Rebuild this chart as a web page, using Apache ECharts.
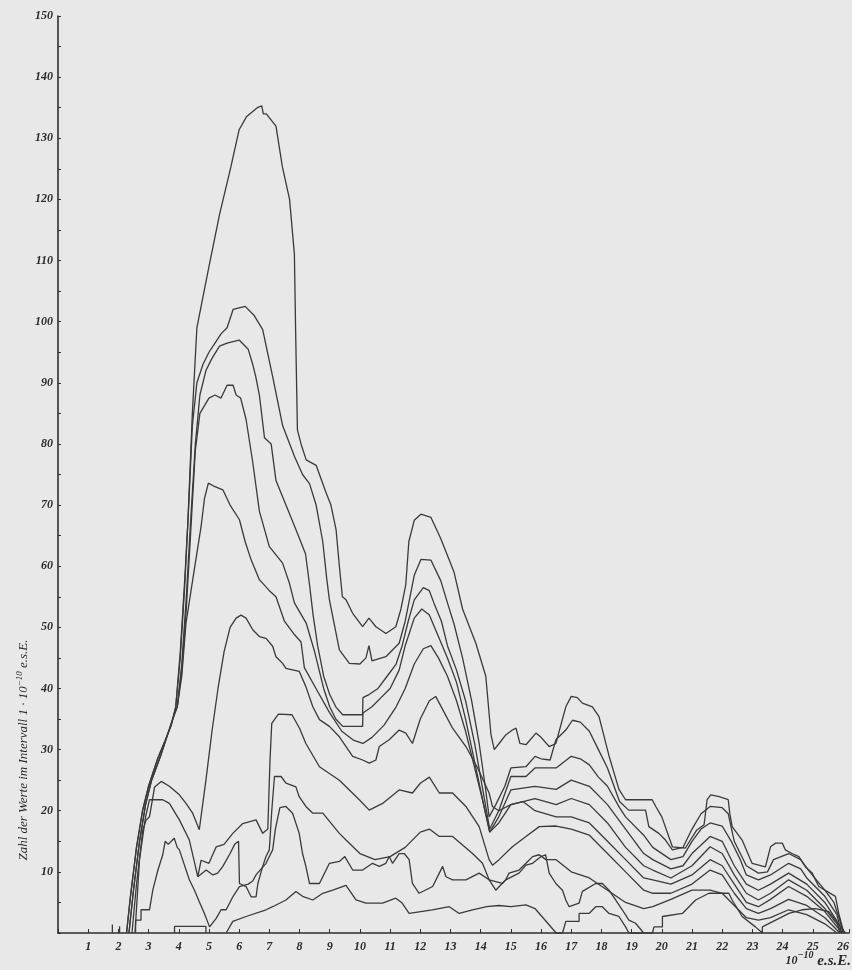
<!DOCTYPE html>
<html>
<head>
<meta charset="utf-8">
<script src="https://cdn.jsdelivr.net/npm/echarts@6/dist/echarts.min.js"></script>
<style>
html,body{margin:0;padding:0;background:#e8e8e8;}
#c{width:852px;height:970px;}
</style>
</head>
<body>
<div id="c"></div>
<script>
// Tick labels
const xTicks = [1,2,3,4,5,6,7,8,9,10,11,12,13,14,15,16,17,18,19,20,21,22,23,24,25,26];
const yTicks = [10,20,30,40,50,60,70,80,90,100,110,120,130,140,150];

// Series values: [charge in 1e-10 e.s.E., count per interval]
const curve1 = [[2.27,0],[2.4,6],[2.6,14],[2.8,20],[3.0,24],[3.3,28.5],[3.55,31.5],[3.75,34],[3.9,37],[4.05,46],[4.2,58],[4.3,67],[4.45,85],[4.6,99],[4.8,104],[5.0,109],[5.35,117.5],[5.73,125.4],[6.0,131.4],[6.24,133.5],[6.6,135],[6.75,135.3],[6.8,134],[6.9,134],[7.22,132],[7.43,125.4],[7.67,120],[7.83,111],[7.87,98.7],[7.93,82.3],[8.05,80],[8.22,77.4],[8.55,76.5],[8.88,72],[9.04,70],[9.21,66],[9.32,60],[9.42,55],[9.54,54.5],[9.76,52.3],[10.09,50.1],[10.3,51.5],[10.53,50.1],[10.86,49],[11.19,50.1],[11.36,53],[11.52,57],[11.62,64],[11.8,67.5],[12.02,68.5],[12.35,68],[12.68,64.5],[13.12,59],[13.4,53],[13.84,47.4],[14.17,42],[14.34,32.5],[14.45,30],[14.61,31],[14.83,32.4],[15.05,33.2],[15.17,33.5],[15.3,31],[15.5,30.8],[15.83,32.7],[16.0,32],[16.27,30.5],[16.49,31],[16.82,37],[17.0,38.7],[17.2,38.5],[17.37,37.6],[17.7,37],[17.92,35.4],[18.25,29],[18.58,23.5],[18.8,21.8],[19.68,21.8],[19.8,20.7],[20.0,19],[20.35,14.1],[20.78,13.9],[21.15,16.8],[21.4,17.7],[21.5,21.8],[21.62,22.6],[21.9,22.3],[22.2,21.8],[22.25,19.6],[22.33,17.4],[22.66,15.2],[22.99,11.4],[23.43,10.8],[23.6,14.1],[23.77,14.7],[23.99,14.7],[24.09,13.6],[24.31,13],[24.54,12.5],[24.76,10.8],[24.98,9.8],[25.2,7.6],[25.75,6],[25.86,3.2],[26.03,0]];
const curve2 = [[2.27,0],[2.4,6],[2.6,14],[2.8,20],[3.0,24],[3.3,28.5],[3.55,31.5],[3.75,34],[3.9,37],[4.05,45],[4.2,57],[4.35,72],[4.45,83],[4.6,90],[4.8,93],[5.0,95],[5.2,96.5],[5.4,98],[5.6,99],[5.8,102],[6.2,102.5],[6.5,101],[6.78,98.7],[7.11,91],[7.44,83],[7.83,78],[8.1,75],[8.33,73.5],[8.55,70],[8.77,64],[8.9,58],[8.99,54.5],[9.32,46.3],[9.65,44.1],[10.0,44],[10.2,45],[10.3,47],[10.4,44.5],[10.53,44.7],[10.86,45.2],[11.3,47.4],[11.5,51],[11.8,58.5],[12.02,61.1],[12.35,61],[12.68,57.6],[12.9,54],[13.12,50.5],[13.4,45],[13.7,38],[13.95,31],[14.15,24],[14.28,19],[14.5,21],[14.8,24],[15.0,27],[15.5,27.2],[15.8,28.9],[16.0,28.5],[16.3,28.3],[16.49,31.6],[16.82,33.2],[17.04,34.8],[17.3,34.5],[17.6,33],[17.9,30],[18.2,27],[18.6,21.5],[18.9,20.1],[19.46,20.1],[19.57,17.4],[19.9,16.3],[20.12,15.2],[20.35,13.6],[20.7,14],[21.0,17],[21.3,19.5],[21.6,20.7],[22.0,20.5],[22.2,19.5],[22.4,15],[22.8,11],[23.2,9.8],[23.5,10],[23.7,12],[24.2,13],[24.6,12],[24.9,10],[25.4,7],[25.7,5],[25.9,2],[26.0,0]];
const curve3 = [[2.35,0],[2.5,7],[2.7,15],[2.9,21],[3.1,25],[3.4,29],[3.6,32],[3.8,35],[3.95,37],[4.1,44],[4.25,55],[4.4,68],[4.55,80],[4.7,88],[4.9,92],[5.1,94],[5.35,96],[5.6,96.5],[6.0,97],[6.3,95.5],[6.45,93],[6.55,91],[6.67,88],[6.84,81],[7.06,80],[7.22,74],[7.55,70],[7.88,66],[8.2,62],[8.33,57],[8.45,52],[8.6,47],[8.8,42],[9.0,39],[9.2,37],[9.43,35.7],[10.09,35.7],[10.1,38.5],[10.3,39],[10.6,40],[10.9,42],[11.2,44],[11.4,47],[11.6,51],[11.8,54.5],[12.1,56.5],[12.3,56],[12.45,54],[12.7,51],[12.9,47],[13.2,43],[13.5,38],[13.8,31],[14.05,24],[14.3,17],[14.6,20],[15.0,25.6],[15.5,25.6],[15.8,27],[16.5,27],[17.0,28.9],[17.3,28.5],[17.6,27.5],[17.9,25.5],[18.2,24],[18.6,20.5],[18.8,19],[19.4,16],[19.7,14],[20.3,12],[20.7,12.5],[21.0,15],[21.3,17],[21.6,18],[22.0,17.5],[22.3,15],[22.6,12],[22.8,9.5],[23.2,8.7],[23.6,9.5],[24.2,11.4],[24.6,10.5],[24.8,9],[25.4,6],[25.8,3],[25.95,0]];
const curve4 = [[2.35,0],[2.5,7],[2.7,15],[2.9,21],[3.1,25],[3.4,29],[3.6,32],[3.8,35],[3.95,37],[4.1,43],[4.25,53],[4.4,66],[4.55,79],[4.7,85],[5.0,87.5],[5.2,88],[5.4,87.5],[5.6,89.6],[5.8,89.6],[5.9,88],[6.05,87.5],[6.23,84],[6.45,77],[6.67,69],[7.0,63.2],[7.44,60.5],[7.66,57.3],[7.83,54],[8.22,50.7],[8.5,46],[8.8,40],[9.0,37],[9.2,35],[9.43,33.8],[10.09,33.8],[10.1,36],[10.4,37],[10.7,38.5],[11.0,40],[11.3,43],[11.5,47],[11.8,51.5],[12.05,53],[12.3,52],[12.6,48.5],[12.9,45],[13.2,41],[13.5,35],[13.8,28],[14.1,21],[14.3,16.5],[14.6,19],[15.0,23.4],[15.8,24],[16.5,23.5],[17.0,25],[17.6,24],[18.2,21],[18.8,17],[19.4,13],[19.7,12],[20.3,10.5],[20.7,11],[21.0,13],[21.6,15.8],[22.0,15],[22.4,11],[22.8,8],[23.2,7],[23.6,8],[24.2,9.8],[24.8,8],[25.4,5],[25.8,2],[25.9,0]];
const curve5 = [[3.95,37],[4.1,42],[4.24,50.7],[4.5,59],[4.74,66.5],[4.85,71],[4.98,73.6],[5.2,73],[5.46,72.5],[5.7,70],[6.01,67.6],[6.2,64],[6.4,61],[6.67,57.8],[7.0,56],[7.22,55],[7.5,51],[7.8,49],[8.05,47.6],[8.16,43.4],[8.6,39.5],[9.0,36],[9.4,33],[9.8,31.5],[10.1,31],[10.4,32],[10.8,34],[11.2,37],[11.5,40],[11.8,44],[12.1,46.5],[12.35,47],[12.6,45],[12.9,42],[13.2,38],[13.5,33],[13.8,27],[14.05,22],[14.3,16.5],[14.6,18],[15.0,21],[15.8,22],[16.5,21],[17.0,22],[17.6,21],[18.2,18],[18.8,14],[19.4,11],[19.7,10.3],[20.3,9],[21.0,11],[21.6,14.1],[22.0,13],[22.4,9.5],[22.8,6.5],[23.2,5.4],[23.6,6.5],[24.2,8.7],[24.8,7],[25.4,4],[25.8,1.5],[25.95,0]];
const curve6 = [[2.45,0],[2.6,8],[2.81,16.9],[2.92,18.5],[3.03,19],[3.2,23.9],[3.42,24.8],[3.69,24],[4.02,22.6],[4.24,21.2],[4.46,19.6],[4.68,16.9],[4.9,25],[5.1,33],[5.3,40],[5.5,46],[5.7,50],[5.9,51.5],[6.06,52],[6.23,51.5],[6.45,49.6],[6.67,48.5],[6.89,48.2],[7.11,46.9],[7.22,45.2],[7.44,44.1],[7.55,43.3],[7.99,42.8],[8.21,40.3],[8.44,37],[8.66,34.9],[8.99,33.8],[9.32,32.1],[9.54,30.5],[9.76,28.9],[10.09,28.3],[10.31,27.8],[10.53,28.3],[10.64,30.5],[10.97,31.6],[11.3,33.2],[11.52,32.7],[11.74,31],[12.0,35],[12.3,38],[12.51,38.7],[12.8,36],[13.07,33.5],[13.51,30.5],[13.9,27],[14.28,22.9],[14.39,20.7],[14.6,20],[15.0,21],[15.4,21.5],[15.8,20],[16.5,19],[17.0,19],[17.6,18],[18.2,15],[18.8,12],[19.4,9],[19.7,8.7],[20.3,8],[21.0,9.5],[21.6,12],[22.0,11],[22.4,8],[22.8,5],[23.2,4.3],[23.6,5.5],[24.2,7.6],[24.8,6],[25.4,3.5],[25.8,1],[26.0,0]];
const curve7 = [[2.55,0],[2.7,12],[2.9,19],[3.03,21.8],[3.47,21.8],[3.69,21.2],[4.02,18.5],[4.35,15.2],[4.5,12],[4.63,9.2],[4.74,11.9],[5.0,11.4],[5.24,14.1],[5.5,14.5],[5.79,16.3],[6.12,17.9],[6.56,18.5],[6.78,16.3],[6.95,17],[7.02,28],[7.08,34.3],[7.3,35.8],[7.75,35.7],[8.0,33.5],[8.21,31],[8.66,27.2],[9.32,25],[9.98,21.8],[10.31,20.1],[10.75,21.2],[11.3,23.4],[11.74,22.9],[12.0,24.5],[12.3,25.5],[12.63,22.9],[13.07,22.9],[13.51,20.7],[13.95,17.4],[14.28,12],[14.39,11.1],[14.61,12],[15.05,14.1],[15.5,15.8],[15.94,17.4],[16.5,17.5],[17.0,17],[17.6,16],[18.2,13],[18.8,10],[19.4,7],[19.7,6.5],[20.3,6.5],[21.0,8],[21.6,10.3],[22.0,9.5],[22.4,6.5],[22.8,4],[23.2,3.2],[23.6,4],[24.2,5.5],[24.8,4.5],[25.4,2.5],[25.8,0.5],[25.9,0]];
const curve8 = [[4.63,9.2],[4.91,10.3],[5.13,9.5],[5.29,9.8],[5.46,10.9],[5.7,13],[5.85,14.5],[5.98,15],[6.01,8.1],[6.23,7.6],[6.4,5.9],[6.56,5.9],[6.62,8.1],[6.78,10.9],[6.89,12.5],[7.0,13.6],[7.08,20],[7.17,25.6],[7.39,25.6],[7.55,24.5],[7.88,23.9],[7.99,22.3],[8.21,20.7],[8.44,19.6],[8.77,19.6],[9.32,16.3],[9.54,15.2],[10.0,13],[10.5,12],[11.0,12.5],[11.5,14],[12.0,16.5],[12.3,17],[12.63,15.8],[13.07,15.8],[13.73,13],[14.06,11.4],[14.28,8.7],[14.5,7],[14.83,8.7],[14.94,9.8],[15.27,10.3],[15.5,11.4],[15.72,12.5],[15.94,12.8],[16.16,12],[16.5,12],[17.0,10],[17.6,9],[18.2,7],[18.8,5],[19.4,4],[19.7,4.3],[20.3,5.5],[21.0,7],[21.6,7],[22.0,6.5],[22.4,4.5],[22.8,2.5],[23.2,2.1],[23.6,2.5],[24.2,3.8],[24.8,3],[25.4,1.5],[25.8,0]];
const curve9 = [[2.57,0],[2.57,2.1],[2.75,2.1],[2.75,3.8],[3.03,3.8],[3.14,7],[3.31,10.3],[3.47,12.8],[3.55,15],[3.65,14.5],[3.85,15.5],[3.95,14],[4.02,13.6],[4.35,8.7],[4.52,7],[4.68,5.1],[4.85,3.2],[5.02,1.0],[5.24,2.4],[5.4,3.8],[5.57,3.8],[5.8,6],[6.01,7.6],[6.3,8],[6.45,8.5],[6.56,9.5],[6.89,11.4],[7.11,13.6],[7.2,17],[7.35,20.5],[7.55,20.7],[7.77,19.6],[7.99,16.3],[8.1,13],[8.21,10.9],[8.33,8.1],[8.66,8.1],[8.77,9.2],[8.99,11.4],[9.32,11.7],[9.5,12.5],[9.76,10.3],[10.09,10.3],[10.42,11.4],[10.64,10.9],[10.86,11.4],[10.97,12.5],[11.08,11.4],[11.3,13],[11.47,13],[11.63,12],[11.74,8.1],[11.96,6.5],[12.41,7.6],[12.63,9.8],[12.74,10.9],[12.85,9.2],[13.07,8.7],[13.51,8.7],[13.95,9.8],[14.28,8.7],[14.72,8.1],[14.83,8.7],[15.27,9.8],[15.5,11.1],[15.72,11.4],[16.0,12.5],[16.15,12.8],[16.27,9.8],[16.49,8.1],[16.71,7],[16.82,5.4],[16.93,4.3],[17.26,4.9],[17.37,6.8],[17.81,8.1],[18.03,8.1],[18.25,7],[18.47,5.4],[18.69,3.8],[18.91,2.1],[19.13,1.6],[19.4,0]];
const curve10 = [[5.57,0],[5.79,1.9],[6.23,2.7],[6.89,3.8],[7.11,4.3],[7.55,5.4],[7.88,6.8],[8.1,6],[8.44,5.4],[8.77,6.5],[9.1,7],[9.54,7.8],[9.87,5.4],[10.2,4.9],[10.75,4.9],[11.19,5.7],[11.4,4.9],[11.63,3.2],[12.4,3.8],[12.96,4.3],[13.29,3.2],[13.73,3.8],[14.2,4.3],[14.6,4.5],[15.0,4.3],[15.5,4.6],[15.8,4],[16.5,0],[16.71,0],[16.82,1.9],[17.26,1.9],[17.26,3.2],[17.59,3.2],[17.81,4.3],[18.03,4.3],[18.25,3.2],[18.58,2.7],[18.8,1.0],[18.91,0],[19.69,0],[19.74,1.0],[20.02,1.0],[20.02,2.7],[20.68,3.2],[20.9,4.3],[21.12,5.4],[21.56,6.5],[22.22,6.5],[22.33,5.4],[22.66,2.7],[23.1,1.0],[23.33,0],[23.33,1.0],[23.77,2.1],[24.21,3.2],[24.65,3.8],[25.09,4.0],[25.53,3.5],[25.75,2.1],[26.08,0]];
const boxSeries = [[3.86,0],[3.86,1.1],[4.9,1.1],[4.9,0]];
const spikeA = [[1.8,0],[1.8,1.4]];
const spikeB = [[2.04,0],[2.04,1.1]];

const allCurves = [curve1,curve2,curve3,curve4,curve5,curve6,curve7,curve8,curve9,curve10,boxSeries,spikeA,spikeB];

const chart = echarts.init(document.getElementById('c'), null, {renderer:'canvas'});
const ink = '#3a3a3a';
const fontFam = '"Liberation Serif","DejaVu Serif",serif';
chart.setOption({
  backgroundColor: '#e8e8e8',
  animation: false,
  grid: {left:58, right:2, top:16, bottom:37, containLabel:false},
  xAxis: {
    type:'value', min:0, max:26.2, interval:1,
    axisLine:{show:true, onZero:false, lineStyle:{color:'#2e2e2e', width:1.6}},
    axisTick:{show:true, inside:true, length:4, lineStyle:{color:'#2e2e2e', width:1}},
    axisLabel:{show:true, margin:8, color:'#2a2a2a', fontFamily:fontFam, fontStyle:'italic', fontWeight:'bold', fontSize:12,
      formatter: v => (xTicks.indexOf(v) >= 0 ? String(v) : '')},
    splitLine:{show:false}
  },
  yAxis: {
    type:'value', min:0, max:150, interval:5,
    axisLine:{show:true, lineStyle:{color:'#2e2e2e', width:1.6}},
    axisTick:{show:true, inside:true, length:3, lineStyle:{color:'#2e2e2e', width:1}},
    axisLabel:{show:true, margin:5, color:'#2a2a2a', fontFamily:fontFam, fontStyle:'italic', fontWeight:'bold', fontSize:12,
      formatter: v => (yTicks.indexOf(v) >= 0 ? String(v) : '')},
    splitLine:{show:false}
  },
  series: allCurves.map(d => ({
    type:'line', data:d, showSymbol:false, symbol:'none', silent:true,
    lineStyle:{color:ink, width:1.3}, clip:false
  })),
  graphic: [
    {type:'text', rotation:Math.PI/2, x:24, y:750,
     style:{text:'{n|Zahl der Werte im Intervall 1 · 10}{s|−10}{n| e.s.E.}', align:'center', verticalAlign:'middle',
       rich:{n:{fontFamily:fontFam, fontStyle:'italic', fontSize:13, fill:'#2a2a2a'},
             s:{fontFamily:fontFam, fontStyle:'italic', fontSize:9, fill:'#2a2a2a', padding:[0,0,9,0]}}}},
    {type:'text', x:851, y:961,
     style:{text:'{n|10}{s|−10}{e| e.s.E.}', align:'right', verticalAlign:'middle',
       rich:{n:{fontFamily:fontFam, fontStyle:'italic', fontWeight:'bold', fontSize:12, fill:'#2a2a2a'},
             s:{fontFamily:fontFam, fontStyle:'italic', fontWeight:'bold', fontSize:10, fill:'#2a2a2a', padding:[0,0,12,0]},
             e:{fontFamily:fontFam, fontStyle:'italic', fontWeight:'bold', fontSize:15, fill:'#2a2a2a'}}}}
  ]
});
</script>
</body>
</html>
